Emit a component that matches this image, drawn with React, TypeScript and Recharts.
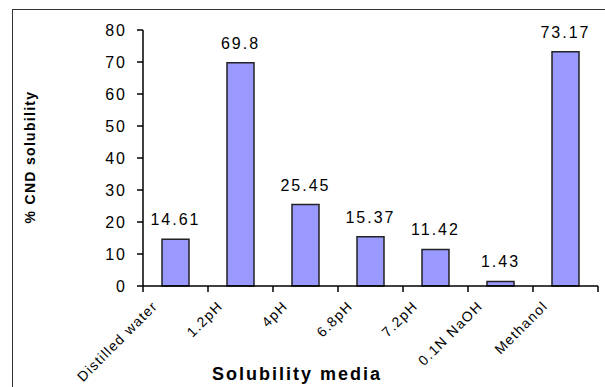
import React from "react";
import { BarChart, Bar, XAxis, YAxis, LabelList } from "recharts";

const media = ["Distilled water", "1.2pH", "4pH", "6.8pH", "7.2pH", "0.1N NaOH", "Methanol"];
const solubility = [14.61, 69.8, 25.45, 15.37, 11.42, 1.43, 73.17];
const yTicks = [0, 10, 20, 30, 40, 50, 60, 70, 80];

const W = 605;
const H = 387;
const M = { top: 30, right: 7, left: 0, bottom: 0 };
const Y_AXIS_W = 143;
const X_AXIS_H = 101;
const BAND = (W - M.left - M.right - Y_AXIS_W) / media.length;

const FONT = "'Liberation Sans', Arial, sans-serif";

const data = media.map((name, i) => ({ name, value: solubility[i] }));

// rotated category labels, with tick marks drawn between categories
function MediaTick(props: any) {
  const { x, y, payload, index } = props;
  const left = x - BAND / 2;
  const last = index === media.length - 1;
  return (
    <g>
      <line x1={left} y1={y} x2={left} y2={y + 6} stroke="#000" strokeWidth={1.5} />
      {last && <line x1={x + BAND / 2} y1={y} x2={x + BAND / 2} y2={y + 6} stroke="#000" strokeWidth={1.5} />}
      <text
        x={x - 17}
        y={y + 21}
        transform={`rotate(-45, ${x - 17}, ${y + 21})`}
        textAnchor="end"
        fontFamily={FONT}
        fontSize={14}
        letterSpacing={1.3}
        fill="#000"
      >
        {payload.value}
      </text>
    </g>
  );
}

function YTitle() {
  return (
    <text
      x={35}
      y={157}
      transform="rotate(-90, 35, 157)"
      textAnchor="middle"
      fontFamily={FONT}
      fontWeight="bold"
      fontSize={14}
      letterSpacing={1.3}
      fill="#000"
    >
      % CND solubility
    </text>
  );
}

function XTitle() {
  return (
    <text
      x={297}
      y={380}
      textAnchor="middle"
      fontFamily={FONT}
      fontWeight="bold"
      fontSize={18}
      letterSpacing={2}
      fill="#000"
    >
      Solubility media
    </text>
  );
}

export default function App() {
  return (
    <div style={{ position: "absolute", left: 0, top: 0, width: W, height: H, background: "#fff" }}>
      <div
        style={{
          position: "absolute",
          left: 12,
          top: 9,
          right: 0,
          bottom: 0,
          borderLeft: "1.5px solid #333",
          borderTop: "1.5px solid #333",
        }}
      />
      <BarChart width={W} height={H} data={data} margin={M} style={{ position: "absolute", left: 0, top: 0 }}>
        <XAxis
          dataKey="name"
          interval={0}
          height={X_AXIS_H}
          tickLine={false}
          tickSize={0}
          tickMargin={0}
          axisLine={{ stroke: "#000", strokeWidth: 1.5 }}
          tick={<MediaTick />}
          label={<XTitle />}
        />
        <YAxis
          width={Y_AXIS_W}
          domain={[0, 80]}
          ticks={yTicks}
          interval={0}
          tickSize={6}
          tickMargin={10}
          axisLine={{ stroke: "#000", strokeWidth: 1.5 }}
          tickLine={{ stroke: "#000", strokeWidth: 1.5 }}
          tick={{ fill: "#000", fontSize: 16, fontFamily: FONT, letterSpacing: 2 }}
          label={<YTitle />}
        />
        <Bar dataKey="value" fill="#9999FF" stroke="#222" strokeWidth={1.5} barSize={27} isAnimationActive={false}>
          <LabelList
            dataKey="value"
            position="top"
            offset={14}
            fill="#000"
            fontSize={16}
            fontFamily={FONT}
            letterSpacing={2}
          />
        </Bar>
      </BarChart>
    </div>
  );
}
